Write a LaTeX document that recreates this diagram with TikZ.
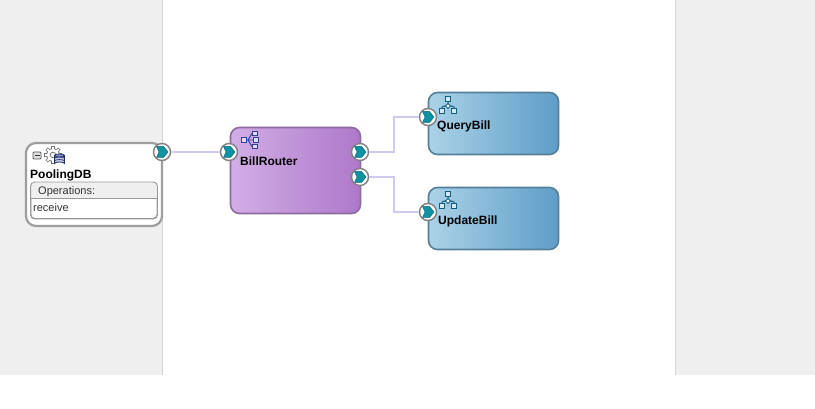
\documentclass[tikz,border=0pt]{standalone}
\usepackage{fontspec}
\setmainfont{Liberation Sans}
\usetikzlibrary{positioning}

\definecolor{panelgray}{HTML}{EFEFEF}
\definecolor{panelline}{HTML}{D6D6D6}
\definecolor{wirecol}{HTML}{CFCBF0}
\definecolor{chevcol}{HTML}{0F93A3}
\definecolor{chevdark}{HTML}{0C6A7E}
\definecolor{routerleft}{HTML}{D2AEE6}
\definecolor{routerright}{HTML}{AE78CA}
\definecolor{routerline}{HTML}{8C6C9F}
\definecolor{billleft}{HTML}{ABD2E7}
\definecolor{billright}{HTML}{5E9DC8}
\definecolor{billline}{HTML}{557F98}
\definecolor{iconblue}{HTML}{2B3F9C}
\definecolor{iconteal}{HTML}{0F5F82}

\tikzset{
  wire/.style={wirecol, line width=2.2pt},
  port/.style={circle, draw=black!50, fill=white, line width=1.4pt, minimum size=17pt, inner sep=0pt,
    path picture={
      \fill[chevcol, draw=chevdark, line width=0.5pt]
        ([shift={(-5.5pt,5.5pt)}]path picture bounding box.center) --
        ([shift={(1.5pt,5.5pt)}]path picture bounding box.center) --
        ([shift={(6pt,0pt)}]path picture bounding box.center) --
        ([shift={(1.5pt,-5.5pt)}]path picture bounding box.center) --
        ([shift={(-5.5pt,-5.5pt)}]path picture bounding box.center) --
        ([shift={(-3pt,0pt)}]path picture bounding box.center) -- cycle;
    }},
  routerstyle/.style={draw=routerline, line width=1.6pt, rounded corners=9pt, left color=routerleft, right color=routerright, minimum width=130pt, minimum height=86pt, inner sep=0pt},
  billstyle/.style={draw=billline, line width=1.6pt, rounded corners=9pt, left color=billleft, right color=billright, minimum width=130pt, minimum height=62pt, inner sep=0pt},
  title/.style={font=\fontsize{12}{14}\selectfont\bfseries, inner sep=0pt, anchor=west},
  small/.style={font=\fontsize{11}{13}\selectfont, inner sep=0pt, anchor=west, text=black!80},
  pics/flowicon/.style={code={
    \draw[iconteal, line width=1pt] (0,-4.5) -- (0,-2) (-6,3) -- (-6,1) -- (-2,-.5) (6,3) -- (6,1) -- (2,-.5);
    \draw[iconteal, line width=1pt, fill=billleft!50!white] (-2.5,-9.5) rectangle (2.5,-4.5);
    \draw[iconteal, line width=1pt, fill=white] (0,-2.5) -- (2.5,0) -- (0,2.5) -- (-2.5,0) -- cycle;
    \draw[iconteal, line width=1pt, fill=billleft!50!white] (-8.5,3) rectangle (-3.5,8);
    \draw[iconteal, line width=1pt, fill=billleft!50!white] (3.5,3) rectangle (8.5,8);
  }},
  pics/routericon/.style={code={
    \draw[iconblue, line width=0.9pt] (-6,0) -- (3,0) (-2,0) -- (2,-6.5) -- (5,-6.5) (-2,0) -- (2,6.5) -- (5,6.5);
    \foreach \sx/\sy in {-6/0, 5/-6.5, 6/0, 5/6.5}
      \draw[iconblue, line width=0.9pt, fill=routerleft!50!white] (\sx-2.2,\sy-2.2) rectangle (\sx+2.2,\sy+2.2);
  }},
  pics/dbicon/.style={code={
    % gear
    \fill[black!55] (0,0) circle (6.8);
    \foreach \a in {0,45,...,315}
      \draw[black!55, line width=3.4pt] (\a:5) -- (\a:9);
    \fill[white] (0,0) circle (5.9);
    \foreach \a in {0,45,...,315}
      \draw[white, line width=1.8pt] (\a:4.5) -- (\a:8.2);
    \draw[black!55, fill=white, line width=0.8pt] (0,0) circle (2.8);
    % database
    \draw[iconblue!70!black, fill=iconblue!30!white, line width=0.8pt] (1.5,0.5) -- (1.5,8.5) arc[start angle=180, end angle=360, x radius=5, y radius=1.5] -- (11.5,0.5);
    \draw[iconblue!70!black, fill=iconblue!55!white, line width=0.8pt] (6.5,0.5) ellipse (5 and 1.5);
    \draw[iconblue!70!black, line width=0.6pt] (1.5,3.5) arc[start angle=180, end angle=360, x radius=5, y radius=1.5];
    \draw[iconblue!70!black, line width=0.6pt] (1.5,6) arc[start angle=180, end angle=360, x radius=5, y radius=1.5];
  }}
}

\begin{document}
\begin{tikzpicture}[x=1pt, y=-1pt]

\useasboundingbox (0,0) rectangle (815,409);

% Side panels
\fill[panelgray] (0,0) rectangle (162.5,375);
\fill[panelgray] (675.5,0) rectangle (815,375);
\draw[panelline] (162.5,0) -- (162.5,375);
\draw[panelline] (675.5,0) -- (675.5,375);

% Main boxes
\node[draw=black!38, fill=white, line width=2.2pt, rounded corners=10pt, minimum width=136pt, minimum height=83pt, inner sep=0pt] (poolbox) at (94,184.5) {};
\node[routerstyle] (routerbox) at (295.5,170.5) {};
\node[billstyle] (querybox) at (493.5,123.5) {};
\node[billstyle] (updatebox) at (493.5,218.5) {};

% Operations compartment
\node[draw=black!40, fill=white, line width=0.9pt, rounded corners=4pt, minimum width=126pt, minimum height=36pt, inner sep=0pt] (opsbox) at (94,200.5) {};
\begin{scope}
  \clip[rounded corners=4pt] (opsbox.north west) rectangle (opsbox.east);
  \fill[panelgray] (opsbox.north west) rectangle ([yshift=2pt]opsbox.east);
\end{scope}
\draw[black!40, line width=0.9pt, rounded corners=4pt] (opsbox.south west) rectangle (opsbox.north east);
\draw[black!40, line width=0.9pt] ([yshift=2pt]opsbox.west) -- ([yshift=2pt]opsbox.east);

% Labels
\node[title] (poollabel) at (30,175) {PoolingDB};
\node[small] (opslabel) at (38,191.5) {Operations:};
\node[small] (recvlabel) at (33,208) {receive};
\node[title] (routerlabel) at (240,161) {BillRouter};
\node[title] (querylabel) at (437,126) {QueryBill};
\node[title] (updatelabel) at (438,221) {UpdateBill};

% Icons
\node[draw=black!65, fill=black!12, line width=0.8pt, rounded corners=1pt, minimum width=8pt, minimum height=7pt, inner sep=0pt] (minusbox) at (37,155.5) {};
\draw[black!80, line width=1pt] ([xshift=-2.5pt]minusbox.center) -- ([xshift=2.5pt]minusbox.center);
\pic at (53,155) {dbicon};
\pic at (250,140) {routericon};
\pic at (448,106) {flowicon};
\pic at (448,201) {flowicon};

% Ports
\node[port] (poolout) at (162,152) {};
\node[port] (routerin) at (229,152) {};
\node[port] (routerup) at (360,152) {};
\node[port] (routerdown) at (360,177) {};
\node[port] (queryin) at (428,117) {};
\node[port] (updatein) at (428,212) {};

% Wires
\draw[wire] (poolout) -- (routerin);
\draw[wire] (routerup) -- (394,152) -- (394,117) -- (queryin);
\draw[wire] (routerdown) -- (394,177) -- (394,212) -- (updatein);

\end{tikzpicture}
\end{document}
